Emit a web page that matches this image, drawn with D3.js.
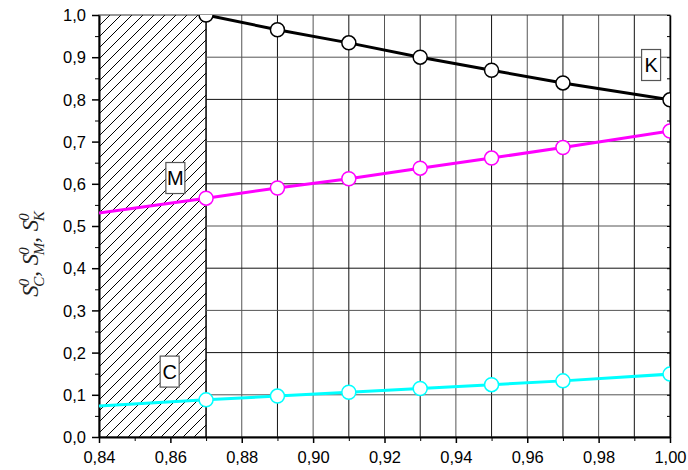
<!DOCTYPE html>
<html><head><meta charset="utf-8">
<script src="https://cdn.jsdelivr.net/npm/d3@7"></script>
<style>body{margin:0;background:#fff}svg{display:block}</style>
</head><body>
<svg id="c" width="688" height="470"></svg>
<script>
const xK = [0.87, 0.89, 0.91, 0.93, 0.95, 0.97, 1.00];
const yK = [1.000, 0.965, 0.934, 0.900, 0.869, 0.839, 0.799];
const xMC = [0.84, 0.87, 0.89, 0.91, 0.93, 0.95, 0.97, 1.00];
const yM = [0.531, 0.566, 0.590, 0.612, 0.637, 0.661, 0.686, 0.725];
const yC = [0.0735, 0.088, 0.097, 0.106, 0.115, 0.124, 0.133, 0.149];
const markK = [true, true, true, true, true, true, true];
const markMC = [false, true, true, true, true, true, true, true];
const xTicks = [0.84, 0.86, 0.88, 0.90, 0.92, 0.94, 0.96, 0.98, 1.00];
const yTicks = [0.0, 0.1, 0.2, 0.3, 0.4, 0.5, 0.6, 0.7, 0.8, 0.9, 1.0];
const hatchEnd = 0.87;
const labels = [{t: "K", x: 0.9947, y: 0.8815}, {t: "M", x: 0.8614, y: 0.6137}, {t: "C", x: 0.8598, y: 0.155}];

const L = 99, R = 670, T = 15, B = 437;
const svg = d3.select("#c");
const x = d3.scaleLinear().domain([0.84, 1.00]).range([L, R]);
const y = d3.scaleLinear().domain([0, 1]).range([B, T]);
const fmt = d => d3.format(".2f")(d).replace(".", ",");
const fmtY = d => d3.format(".1f")(d).replace(".", ",");

const defs = svg.append("defs");
defs.append("clipPath").attr("id", "clip").append("rect")
  .attr("x", L).attr("y", T).attr("width", R - L).attr("height", B - T);
defs.append("clipPath").attr("id", "hclip").append("rect")
  .attr("x", x(0.84)).attr("y", T).attr("width", x(hatchEnd) - x(0.84)).attr("height", B - T);

// hatched area
const hw = x(hatchEnd) - x(0.84), hh = B - T;
const offs = d3.range(-hh, hw + 11, 11);
svg.append("g").attr("clip-path", "url(#hclip)").selectAll("line").data(offs).join("line")
  .attr("x1", d => L + d).attr("y1", B).attr("x2", d => L + d + hh).attr("y2", T)
  .attr("stroke", "#000").attr("stroke-width", 1).attr("shape-rendering", "crispEdges");
svg.append("line").attr("x1", x(hatchEnd)).attr("x2", x(hatchEnd)).attr("y1", T).attr("y2", B)
  .attr("stroke", "#000").attr("stroke-width", 1.5);

// grid
const gx = d3.range(88, 100, 1).map(v => v / 100);
svg.append("g").selectAll("line").data(gx).join("line")
  .attr("x1", d => x(d)).attr("x2", d => x(d)).attr("y1", T).attr("y2", B)
  .attr("stroke", (d, i) => i % 2 === 0 ? "#555" : "#111").attr("stroke-width", 1);
const gy = yTicks.filter(v => v > 0 && v < 1);
svg.append("g").selectAll("line").data(gy).join("line")
  .attr("x1", x(hatchEnd)).attr("x2", R).attr("y1", d => y(d)).attr("y2", d => y(d))
  .attr("stroke", (d, i) => i % 2 === 0 ? "#555" : "#111").attr("stroke-width", 1);

// frame
svg.append("rect").attr("x", L).attr("y", T).attr("width", R - L).attr("height", B - T)
  .attr("fill", "none").attr("stroke", "#333").attr("stroke-width", 1);

// axes
const ax = svg.append("g").attr("transform", `translate(0,${B})`)
  .call(d3.axisBottom(x).tickValues(xTicks).tickFormat(fmt).tickSize(6).tickSizeOuter(0));
svg.append("g").attr("transform", `translate(0,${B})`)
  .call(d3.axisBottom(x).tickValues(d3.range(85, 100, 2).map(v => v / 100)).tickFormat("").tickSize(4).tickSizeOuter(0))
  .select(".domain").remove();
const ay = svg.append("g").attr("transform", `translate(${L},0)`)
  .call(d3.axisLeft(y).tickValues(yTicks).tickFormat(fmtY).tickSize(7).tickSizeOuter(0));
svg.append("g").attr("transform", `translate(${L},0)`)
  .call(d3.axisLeft(y).tickValues(d3.range(0.05, 1, 0.1)).tickFormat("").tickSize(4).tickSizeOuter(0))
  .select(".domain").remove();
svg.append("g").attr("transform", `translate(${R},0)`)
  .call(d3.axisLeft(y).tickValues(d3.range(0, 1.001, 0.05)).tickFormat("").tickSize(3).tickSizeOuter(0))
  .select(".domain").attr("stroke-width", 1.5);
[ax, ay].forEach(g => {
  g.select(".domain").attr("stroke-width", 2);
  g.selectAll(".tick line").attr("stroke-width", 1.5);
  g.selectAll("text").attr("font-family", "Liberation Sans, Arial, sans-serif").attr("font-size", 16.5).attr("fill", "#000");
});
ax.selectAll("text").attr("y", 14).attr("dy", "0.75em");
ay.selectAll("text").attr("x", -13).attr("dy", "0.35em");
svg.selectAll(".tick line").attr("stroke", "#000");

// series
const plot = svg.append("g").attr("clip-path", "url(#clip)");
const series = [
  {xs: xK, ys: yK, marks: markK, color: "#000000"},
  {xs: xMC, ys: yM, marks: markMC, color: "#ff00ff"},
  {xs: xMC, ys: yC, marks: markMC, color: "#00ffff"}
];
const line = d3.line().x(d => x(d[0])).y(d => y(d[1]));
series.forEach(s => {
  const pts = s.xs.map((v, i) => [v, s.ys[i], s.marks[i]]);
  plot.append("path").datum(pts).attr("d", line).attr("fill", "none")
    .attr("stroke", s.color).attr("stroke-width", 3);
  plot.selectAll(null).data(pts.filter(p => p[2])).join("circle")
    .attr("cx", d => x(d[0])).attr("cy", d => y(d[1])).attr("r", 7)
    .attr("fill", "#fff").attr("stroke", s.color).attr("stroke-width", 1.5);
});

// labels
labels.forEach(l => {
  const g = svg.append("g").attr("transform", `translate(${x(l.x)},${y(l.y)})`);
  g.append("rect").attr("x", -9.5).attr("y", -15.5).attr("width", 19).attr("height", 31)
    .attr("fill", "#fff").attr("stroke", "#555").attr("stroke-width", 1.2);
  g.append("text").attr("text-anchor", "middle").attr("dy", "0.36em")
    .attr("font-family", "Liberation Sans, Arial, sans-serif").attr("font-size", 20).text(l.t);
});

// y-axis title
const yt = svg.append("text").attr("transform", "translate(38,254) rotate(-90)")
  .attr("text-anchor", "middle").attr("font-family", "Liberation Serif, Times New Roman, serif")
  .attr("font-size", 23).attr("font-style", "italic").attr("fill", "#222");
["C", "M", "K"].forEach((s, i) => {
  yt.append("tspan").text("S");
  yt.append("tspan").attr("font-size", 15).attr("dy", -9).attr("dx", -1).text("0");
  yt.append("tspan").attr("font-size", 15).attr("dy", 15).attr("dx", -8).text(s);
  yt.append("tspan").attr("dy", -6).text(i < 2 ? ", " : "");
});
</script>
</body></html>
